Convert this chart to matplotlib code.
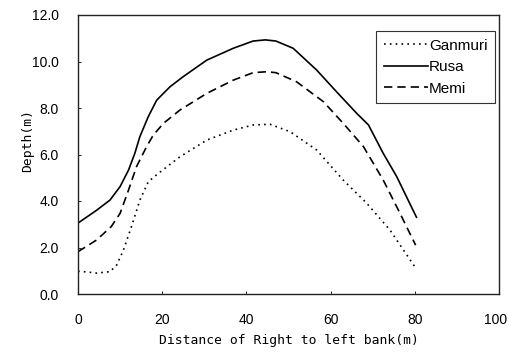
import matplotlib
matplotlib.use("Agg")
import matplotlib.pyplot as plt
import matplotlib.transforms as mtransforms

# Data
rusa_x = [0, 4.4, 7.6, 10, 12, 13.5, 14.7, 16.7, 18.7, 21.9, 25, 30.6, 36.9, 41.6, 44.5, 47, 51.1, 56.7, 61.4, 66.2, 69, 72.5, 75.7, 80.4]
rusa_y = [3.05, 3.6, 4.04, 4.62, 5.33, 6.05, 6.77, 7.63, 8.34, 8.92, 9.35, 10.06, 10.57, 10.88, 10.93, 10.88, 10.57, 9.63, 8.7, 7.77, 7.27, 6.05, 5.05, 3.3]

memi_x = [0, 4.4, 7.9, 10, 12, 13.9, 16.3, 17.9, 20.3, 24.2, 30.6, 36.9, 41.6, 44.8, 47, 51.9, 58.3, 63, 67.8, 72.5, 76.1, 80.2]
memi_y = [1.82, 2.32, 2.9, 3.47, 4.47, 5.48, 6.34, 6.84, 7.34, 7.91, 8.63, 9.2, 9.52, 9.56, 9.52, 9.13, 8.27, 7.34, 6.34, 4.9, 3.61, 2.1]

ganmuri_x = [0, 2, 4.4, 7.6, 9.2, 10.8, 12.7, 14.7, 16.7, 19.1, 24.2, 30.6, 36.9, 41.6, 45.6, 50.4, 56.7, 63, 68.6, 74.1, 80.2]
ganmuri_y = [0.98, 0.95, 0.9, 0.96, 1.25, 1.89, 2.9, 4.04, 4.83, 5.19, 5.9, 6.62, 7.05, 7.27, 7.3, 6.98, 6.19, 4.9, 3.9, 2.75, 1.12]

x_ticks = [0, 20, 40, 60, 80, 100]
y_ticks = [0, 2, 4, 6, 8, 10, 12]
y_tick_labels = ["0.0", "2.0", "4.0", "6.0", "8.0", "10.0", "12.0"]

fig = plt.figure(figsize=(5.09, 3.56), dpi=100)
ax = fig.add_axes([78/509, 1 - 294/356, (499-78)/509, (294-15)/356])

ax.plot(ganmuri_x, ganmuri_y, color="black", lw=1.2, linestyle=(0, (1, 2.5)), label="Ganmuri")
ax.plot(rusa_x, rusa_y, color="black", lw=1.2, linestyle="-", label="Rusa")
ax.plot(memi_x, memi_y, color="black", lw=1.2, linestyle=(0, (5, 3)), label="Memi")

ax.set_xlim(0, 100)
ax.set_ylim(0, 12)
ax.set_xticks(x_ticks)
ax.set_yticks(y_ticks)
ax.set_yticklabels(y_tick_labels)
ax.tick_params(direction="in", length=2, width=0.6, labelsize=10, pad=14)
for lab in ax.get_xticklabels() + ax.get_yticklabels():
    lab.set_fontfamily(["Liberation Sans", "DejaVu Sans"])
# keep the last x tick label inside the image
last = ax.get_xticklabels()[-1]
last.set_transform(last.get_transform() + mtransforms.ScaledTranslation(-3/100, 0, fig.dpi_scale_trans))
for s in ax.spines.values():
    s.set_linewidth(1.0)
    s.set_color("#222222")

ax.set_xlabel("Distance of Right to left bank(m)", fontsize=9.4, family=["DejaVu Sans Mono"])
ax.set_ylabel("Depth(m)", fontsize=9.4, family=["DejaVu Sans Mono"])
ax.xaxis.set_label_coords(0.5, -0.145)
ax.yaxis.set_label_coords(-0.105, 0.55)

leg = ax.legend(loc="upper left", bbox_to_anchor=(0.708, 0.943), borderaxespad=0,
                frameon=True, fancybox=False,
                edgecolor="#333333", framealpha=1, handlelength=2.9, handletextpad=0.08,
                borderpad=0.5, labelspacing=0.5,
                prop={"family": ["Liberation Sans", "DejaVu Sans"], "size": 11})
leg.get_frame().set_linewidth(0.8)

fig.savefig("out.png", dpi=100)
